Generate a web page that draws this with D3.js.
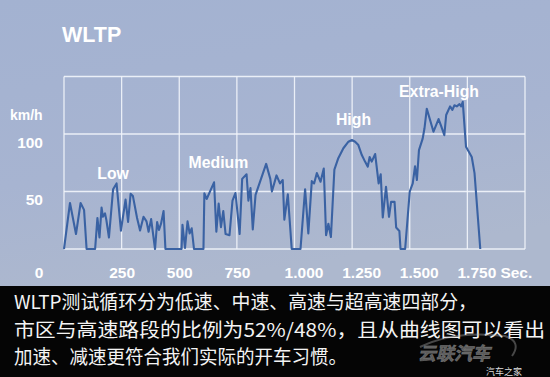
<!DOCTYPE html>
<html>
<head>
<meta charset="utf-8">
<script src="https://cdn.jsdelivr.net/npm/d3@7/dist/d3.min.js"></script>
<style>
html,body{margin:0;padding:0;background:#000;}
svg{display:block;}
</style>
</head>
<body>
<svg id="chart" width="550" height="377"></svg>
<script>
// ---- data ----
const timeSec = [0,26,52,72,87,98,135,145,154,163,169,178,184,195,213,228,247,267,278,289,299,317,330,345,358,367,378,395,404,412,421,432,440,510,514,525,536,545,554,564,605,
  609,619,651,661,671,681,691,701,718,731,744,762,773,792,800,809,819,831,877,895,902,922,937,949,956,971,988,
  1026,1046,1060,1075,1085,1097,1113,1127,1137,1147,1158,1173,1190,1212,1234,1249,1263,1277,1292,1306,1318,1326,1335,1350,1365,1374,1383,1397,1410,1419,1434,1441,1455,1460,
  1480,1500,1513,1523,1531,1540,1556,1564,1574,1603,1625,1636,1650,1658,1675,1685,1694,1704,1716,1723,1730,1744,1752,1769,1781,1806];
const speedKmh = [0,40,13,40,34,0,0,27,10,36,28,31,25,10,52,57,16,43,23.5,48,46,27,16,28,24,15,26,0,23.5,16.5,22,33,0,0,21,1,24,13.6,18,0,0,
  48.4,43.5,58,15,39.5,19,33,13,12,42,48.7,13,61,65,42,53,17,47,74,61,50,64,57,60,25.5,47.5,0,
  0,52,13.6,59,57,66,58.5,70,12,22,10.4,69,79,87.6,93.3,94.8,93.3,90.4,81.7,76,71.6,80,76,82.6,57,65,27.4,54,28,41,41,18.7,15.7,0,
  0,50,57,72,60,86,96,105,122,102,113,107,99,116.5,124,121,125,124,126,124,128,89,86,80,66,0];
const xTicks = [250,500,750,1000,1250,1500,1750];
const yTicks = [50,100];
const phaseNames = ["Low","Medium","High","Extra-High"];
const phaseLabelTime = [213,670,1256,1627];
const phaseLabelSpeed = [61,70.4,108,132];
const title = "WLTP";
const yUnit = "km/h";
const xUnit = "Sec.";
const caption = ["WLTP测试循环分为低速、中速、高速与超高速四部分，",
                 "市区与高速路段的比例为52%/48%，且从曲线图可以看出",
                 "加速、减速更符合我们实际的开车习惯。"];

// ---- drawing ----
const svg = d3.select("#chart");
const W = 550, H = 377;
const x = d3.scaleLinear().domain([0,2000]).range([64,525]);
const y = d3.scaleLinear().domain([0,150]).range([249,76.5]);

const defs = svg.append("defs");
const bg = defs.append("linearGradient").attr("id","bg").attr("x1","0").attr("y1","0").attr("x2","0.3").attr("y2","1");
bg.append("stop").attr("offset","0%").attr("stop-color","#a3b2d1");
bg.append("stop").attr("offset","60%").attr("stop-color","#a7b4d1");
bg.append("stop").attr("offset","100%").attr("stop-color","#adb8ce");

svg.append("rect").attr("x",0).attr("y",0).attr("width",W).attr("height",287).attr("fill","url(#bg)");
svg.append("rect").attr("x",0).attr("y",286).attr("width",W).attr("height",H-286).attr("fill","#050505");

const font = "'Liberation Sans', Arial, Helvetica, sans-serif";

// title
svg.append("text").attr("x",62).attr("y",42).text(title)
  .attr("font-family",font).attr("font-weight","bold").attr("font-size",21.5).attr("fill","#ffffff");

// grid
const grid = svg.append("g").attr("stroke","#f2f5fb").attr("stroke-opacity",0.9).attr("stroke-width",1.3).attr("fill","none");
grid.selectAll("line.v").data(d3.range(0,2001,250)).join("line")
  .attr("x1",d=>x(d)).attr("x2",d=>x(d)).attr("y1",y(150)).attr("y2",y(0));
grid.selectAll("line.h").data([0,50,100,150]).join("line")
  .attr("x1",x(0)).attr("x2",x(2000)).attr("y1",d=>y(d)).attr("y2",d=>y(d));

// y axis labels
const yAxis = d3.axisLeft(y).tickValues(yTicks).tickSize(0).tickPadding(0).tickFormat(d3.format("d"));
const gy = svg.append("g").attr("transform","translate(43,13)").call(yAxis);
gy.select(".domain").remove();
gy.selectAll("text").attr("font-family",font).attr("font-weight","bold").attr("font-size",15.5)
  .attr("fill","#ffffff").attr("dy",0).attr("text-anchor","end");
svg.append("text").attr("x",10).attr("y",120).text(yUnit)
  .attr("font-family",font).attr("font-weight","bold").attr("font-size",14).attr("fill","#ffffff");

// x axis labels
const fmt = d => d >= 1000 ? d3.format(",")(d).replace(",",".") : String(d);
const xAxis = d3.axisBottom(x).tickValues(xTicks).tickSize(0).tickPadding(0).tickFormat(fmt);
const gx = svg.append("g").attr("transform","translate(0,278)").call(xAxis);
gx.select(".domain").remove();
gx.selectAll("text").attr("font-family",font).attr("font-weight","bold").attr("font-size",15.5)
  .attr("fill","#ffffff").attr("dy",0).attr("dx",d=>d>=1000?9:0);
svg.append("text").attr("x",x(0)-25).attr("y",278).attr("text-anchor","middle").text("0")
  .attr("font-family",font).attr("font-weight","bold").attr("font-size",15.5).attr("fill","#ffffff");
svg.append("text").attr("x",x(1750)+33).attr("y",278).text(xUnit)
  .attr("font-family",font).attr("font-weight","bold").attr("font-size",15.5).attr("fill","#ffffff");

// line
const pts = timeSec.map((t,i)=>[t,speedKmh[i]]);
svg.append("path").datum(pts)
  .attr("d", d3.line().x(d=>x(d[0])).y(d=>y(d[1])))
  .attr("fill","none").attr("stroke","#3a62a3").attr("stroke-width",2.1).attr("stroke-linejoin","round");

// phase labels
svg.selectAll("text.phase").data(phaseNames).join("text").attr("class","phase")
  .attr("x",(d,i)=>x(phaseLabelTime[i])).attr("y",(d,i)=>y(phaseLabelSpeed[i]))
  .attr("text-anchor","middle").text(d=>d)
  .attr("font-family",font).attr("font-weight","bold").attr("font-size",15.8).attr("fill","#ffffff");

// caption
const capLen = [463,531,333];
svg.selectAll("text.cap").data(caption).join("text").attr("class","cap")
  .attr("x",14).attr("y",(d,i)=>309+i*27.5).text(d=>d)
  .attr("textLength",(d,i)=>capLen[i]).attr("lengthAdjust","spacingAndGlyphs")
  .attr("font-family","'Noto Sans CJK SC', sans-serif").attr("font-size",19).attr("fill","#f4f4f4");

// watermarks
svg.append("path").attr("d","M420,347 Q455,330 505,336 Q522,342 512,356")
  .attr("fill","none").attr("stroke","#aaaaaa").attr("stroke-opacity",0.4).attr("stroke-width",2);
svg.append("text").attr("x",418).attr("y",360).text("云联汽车")
  .attr("font-family","'Noto Sans CJK SC', sans-serif").attr("font-weight","bold").attr("font-style","italic")
  .attr("font-size",18).attr("fill","#ffffff").attr("fill-opacity",0.35)
  .attr("stroke","#888888").attr("stroke-opacity",0.6).attr("stroke-width",0.8);
svg.append("text").attr("x",486).attr("y",375).text("汽车之家")
  .attr("font-family","'Noto Sans CJK SC', sans-serif").attr("font-size",9).attr("fill","#dddddd");
</script>
</body>
</html>
